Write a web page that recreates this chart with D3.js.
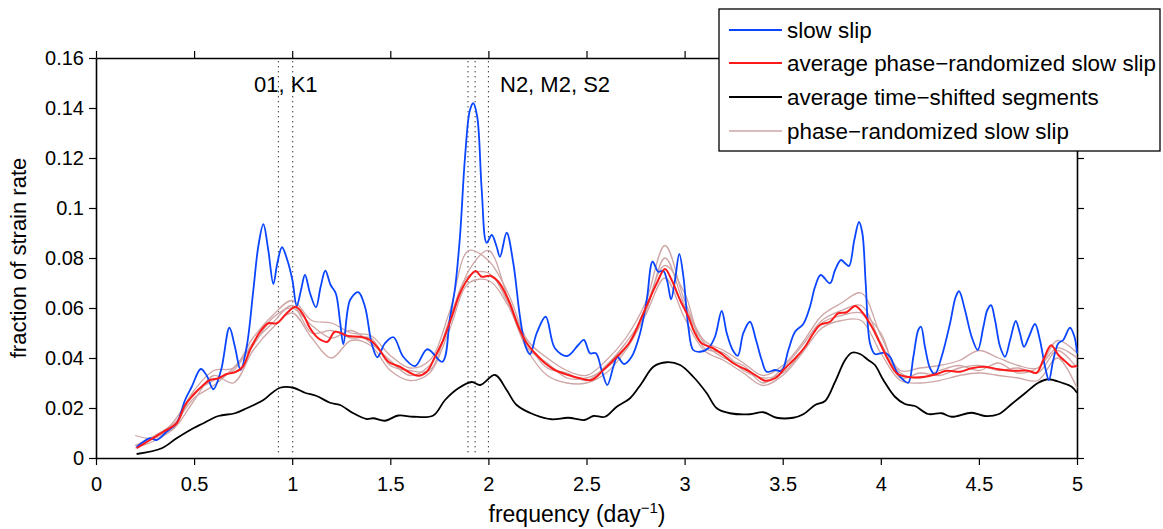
<!DOCTYPE html>
<html>
<head>
<meta charset="utf-8">
<script src="https://cdn.jsdelivr.net/npm/d3@7"></script>
<style>
  body { margin: 0; background: #fff; }
  text { font-family: "Liberation Sans", Arial, Helvetica, sans-serif; fill: #000; }
</style>
</head>
<body>
<div id="chart"></div>
<script>
// ---- data ----
const xTicks = [0, 0.5, 1, 1.5, 2, 2.5, 3, 3.5, 4, 4.5, 5];
const xTickLabels = ["0", "0.5", "1", "1.5", "2", "2.5", "3", "3.5", "4", "4.5", "5"];
const yTicks = [0, 0.02, 0.04, 0.06, 0.08, 0.1, 0.12, 0.14, 0.16];
const yTickLabels = ["0", "0.02", "0.04", "0.06", "0.08", "0.1", "0.12", "0.14", "0.16"];

// tidal constituent frequencies (dotted lines)
const diurnal = [0.9295, 1.0027];          // O1, K1
const semidiurnal = [1.8960, 1.9323, 2.0]; // N2, M2, S2

const slowSlipFreq = [0.207, 0.275, 0.309, 0.36, 0.411, 0.454, 0.488, 0.534, 0.564, 0.598, 0.637, 0.68, 0.708, 0.737, 0.768, 0.802, 0.827, 0.853, 0.878, 0.904, 0.924, 0.948, 0.975, 1.001, 1.023, 1.045, 1.065, 1.091, 1.121, 1.145, 1.169, 1.196, 1.222, 1.244, 1.261, 1.295, 1.337, 1.371, 1.405, 1.434, 1.473, 1.516, 1.566, 1.626, 1.689, 1.765, 1.804, 1.83, 1.855, 1.881, 1.906, 1.923, 1.943, 1.966, 1.991, 2.017, 2.042, 2.059, 2.093, 2.127, 2.161, 2.19, 2.212, 2.246, 2.292, 2.339, 2.402, 2.458, 2.487, 2.518, 2.548, 2.577, 2.606, 2.637, 2.657, 2.691, 2.73, 2.773, 2.807, 2.837, 2.866, 2.891, 2.912, 2.931, 2.951, 2.973, 2.994, 3.019, 3.044, 3.078, 3.121, 3.155, 3.189, 3.215, 3.245, 3.271, 3.299, 3.333, 3.364, 3.393, 3.418, 3.461, 3.495, 3.529, 3.563, 3.605, 3.639, 3.665, 3.694, 3.741, 3.767, 3.797, 3.818, 3.838, 3.865, 3.889, 3.906, 3.923, 3.945, 3.97, 4.021, 4.047, 4.081, 4.115, 4.14, 4.166, 4.191, 4.205, 4.225, 4.251, 4.276, 4.31, 4.353, 4.382, 4.399, 4.429, 4.463, 4.494, 4.523, 4.543, 4.562, 4.582, 4.608, 4.633, 4.659, 4.688, 4.709, 4.73, 4.755, 4.786, 4.811, 4.837, 4.857, 4.879, 4.905, 4.93, 4.964, 4.987, 5.0];
const slowSlip = [0.0043, 0.0079, 0.0072, 0.0105, 0.0139, 0.0232, 0.0285, 0.0356, 0.033, 0.0275, 0.035, 0.0521, 0.0445, 0.0352, 0.0445, 0.0672, 0.0845, 0.0935, 0.0832, 0.0696, 0.0779, 0.0843, 0.0792, 0.0712, 0.0608, 0.0672, 0.0732, 0.0659, 0.0603, 0.0685, 0.0749, 0.0692, 0.0659, 0.0545, 0.0455, 0.0632, 0.0663, 0.0605, 0.0459, 0.0403, 0.0459, 0.0483, 0.0405, 0.0368, 0.0435, 0.0385, 0.056, 0.068, 0.0885, 0.1205, 0.1392, 0.1419, 0.1365, 0.1072, 0.0861, 0.0892, 0.0845, 0.0805, 0.0901, 0.0779, 0.0565, 0.0445, 0.0415, 0.0499, 0.0565, 0.0439, 0.0408, 0.0452, 0.0472, 0.0419, 0.0419, 0.0352, 0.0292, 0.0365, 0.0405, 0.0376, 0.0405, 0.0499, 0.0632, 0.0785, 0.0745, 0.0749, 0.0705, 0.0635, 0.0712, 0.0816, 0.0725, 0.0525, 0.0432, 0.0425, 0.0439, 0.0485, 0.0588, 0.0499, 0.0432, 0.0409, 0.0499, 0.0545, 0.0472, 0.0392, 0.0345, 0.0352, 0.0349, 0.0432, 0.0505, 0.0536, 0.0605, 0.0685, 0.0732, 0.0699, 0.0752, 0.0792, 0.0779, 0.0768, 0.0872, 0.0944, 0.0899, 0.0699, 0.0459, 0.0416, 0.0421, 0.0405, 0.0345, 0.0312, 0.0301, 0.0405, 0.0512, 0.0525, 0.0445, 0.0359, 0.0336, 0.0405, 0.0539, 0.0645, 0.0667, 0.0592, 0.0485, 0.0432, 0.0525, 0.0592, 0.0611, 0.0552, 0.0445, 0.0405, 0.0472, 0.0548, 0.0499, 0.0445, 0.0485, 0.0536, 0.0472, 0.0365, 0.0312, 0.0392, 0.0459, 0.0472, 0.0521, 0.0485, 0.0419];

const avgRandFreq = [0.207, 0.275, 0.343, 0.411, 0.454, 0.496, 0.547, 0.581, 0.624, 0.666, 0.708, 0.748, 0.785, 0.836, 0.878, 0.921, 0.972, 1.018, 1.057, 1.091, 1.133, 1.179, 1.218, 1.286, 1.346, 1.397, 1.439, 1.49, 1.549, 1.6, 1.643, 1.686, 1.728, 1.77, 1.813, 1.855, 1.898, 1.935, 1.966, 2.008, 2.051, 2.102, 2.153, 2.195, 2.238, 2.289, 2.339, 2.407, 2.467, 2.526, 2.586, 2.654, 2.722, 2.79, 2.858, 2.9, 2.934, 2.977, 3.019, 3.053, 3.087, 3.146, 3.197, 3.248, 3.317, 3.368, 3.41, 3.461, 3.512, 3.571, 3.614, 3.656, 3.69, 3.741, 3.783, 3.826, 3.869, 3.903, 3.954, 3.996, 4.038, 4.081, 4.132, 4.225, 4.285, 4.336, 4.404, 4.463, 4.531, 4.599, 4.667, 4.752, 4.794, 4.828, 4.868, 4.905, 4.948, 4.973, 5.0];
const avgRand = [0.0039, 0.0072, 0.0105, 0.0139, 0.0212, 0.0252, 0.0292, 0.0312, 0.0319, 0.0336, 0.0343, 0.0365, 0.0432, 0.0505, 0.0539, 0.0539, 0.0579, 0.0605, 0.0572, 0.0519, 0.0479, 0.0465, 0.0505, 0.0488, 0.0485, 0.0472, 0.0439, 0.0385, 0.0365, 0.0341, 0.0329, 0.0345, 0.0405, 0.0472, 0.0565, 0.0659, 0.0719, 0.0748, 0.0725, 0.0729, 0.0705, 0.0632, 0.0525, 0.0459, 0.0419, 0.0379, 0.0352, 0.0332, 0.0319, 0.0312, 0.0352, 0.0405, 0.0465, 0.0579, 0.0699, 0.0756, 0.0712, 0.0632, 0.0565, 0.0499, 0.0459, 0.0439, 0.0412, 0.0379, 0.0352, 0.0328, 0.0309, 0.0319, 0.0359, 0.0405, 0.0445, 0.0499, 0.0532, 0.0545, 0.0579, 0.0583, 0.0608, 0.0585, 0.0525, 0.0459, 0.0392, 0.0339, 0.0325, 0.0325, 0.0336, 0.0349, 0.0345, 0.0359, 0.0365, 0.0355, 0.0349, 0.0349, 0.0341, 0.0392, 0.0451, 0.0412, 0.0381, 0.0365, 0.0369];

const shiftedFreq = [0.207, 0.335, 0.411, 0.496, 0.539, 0.624, 0.708, 0.768, 0.853, 0.895, 0.938, 1.006, 1.065, 1.125, 1.193, 1.244, 1.312, 1.38, 1.413, 1.473, 1.541, 1.617, 1.719, 1.779, 1.847, 1.915, 1.958, 2.034, 2.093, 2.144, 2.238, 2.322, 2.407, 2.489, 2.535, 2.594, 2.654, 2.722, 2.781, 2.841, 2.909, 2.977, 3.044, 3.113, 3.164, 3.231, 3.333, 3.401, 3.469, 3.554, 3.605, 3.665, 3.716, 3.767, 3.818, 3.852, 3.894, 3.936, 3.97, 4.013, 4.072, 4.123, 4.174, 4.242, 4.31, 4.361, 4.463, 4.531, 4.599, 4.667, 4.735, 4.803, 4.854, 4.922, 4.973, 5.0];
const shifted = [0.0016, 0.0039, 0.0079, 0.0119, 0.0136, 0.0168, 0.0179, 0.0199, 0.0232, 0.0259, 0.0281, 0.0281, 0.0261, 0.0248, 0.0221, 0.0212, 0.0179, 0.0156, 0.0159, 0.0149, 0.017, 0.0165, 0.017, 0.0232, 0.0279, 0.0304, 0.0292, 0.0332, 0.0272, 0.0212, 0.0172, 0.0155, 0.0161, 0.0152, 0.0168, 0.0165, 0.0205, 0.0239, 0.0299, 0.0365, 0.0383, 0.0372, 0.0325, 0.0259, 0.0199, 0.0179, 0.0175, 0.0183, 0.0161, 0.0161, 0.0175, 0.0212, 0.0228, 0.0305, 0.0392, 0.0421, 0.0416, 0.0392, 0.0372, 0.0312, 0.0245, 0.0216, 0.0208, 0.0176, 0.0179, 0.0165, 0.0181, 0.0168, 0.0175, 0.0216, 0.0259, 0.0301, 0.0315, 0.0301, 0.0285, 0.0261];

// individual phase-randomized realisations (light traces)
const randFreq = [0.2, 0.3, 0.4, 0.5, 0.6, 0.7, 0.8, 0.9, 1.0, 1.1, 1.2, 1.3, 1.4, 1.5, 1.6, 1.7, 1.8, 1.9, 2.0, 2.1, 2.2, 2.3, 2.4, 2.5, 2.6, 2.7, 2.8, 2.9, 3.0, 3.1, 3.2, 3.3, 3.4, 3.5, 3.6, 3.7, 3.8, 3.9, 4.0, 4.1, 4.2, 4.3, 4.4, 4.5, 4.6, 4.7, 4.8, 4.9, 5.0];
const randA = [0.009, 0.008, 0.015, 0.027, 0.035, 0.036, 0.048, 0.057, 0.063, 0.055, 0.054, 0.050, 0.049, 0.041, 0.036, 0.039, 0.058, 0.083, 0.079, 0.066, 0.047, 0.040, 0.035, 0.033, 0.039, 0.048, 0.062, 0.085, 0.063, 0.047, 0.043, 0.038, 0.033, 0.037, 0.046, 0.057, 0.062, 0.066, 0.049, 0.035, 0.036, 0.037, 0.039, 0.043, 0.040, 0.037, 0.036, 0.047, 0.042];
const randB = [0.004, 0.007, 0.012, 0.023, 0.033, 0.030, 0.043, 0.052, 0.058, 0.048, 0.040, 0.047, 0.045, 0.035, 0.031, 0.034, 0.051, 0.070, 0.071, 0.061, 0.043, 0.033, 0.030, 0.030, 0.034, 0.043, 0.057, 0.072, 0.056, 0.043, 0.039, 0.034, 0.029, 0.033, 0.042, 0.052, 0.055, 0.055, 0.042, 0.031, 0.030, 0.031, 0.033, 0.034, 0.033, 0.032, 0.031, 0.040, 0.028];
const randC = [0.005, 0.009, 0.014, 0.024, 0.029, 0.036, 0.045, 0.056, 0.060, 0.053, 0.048, 0.051, 0.046, 0.039, 0.033, 0.037, 0.053, 0.075, 0.083, 0.064, 0.046, 0.036, 0.034, 0.031, 0.037, 0.046, 0.058, 0.080, 0.061, 0.046, 0.040, 0.037, 0.030, 0.036, 0.045, 0.055, 0.059, 0.061, 0.046, 0.034, 0.032, 0.035, 0.037, 0.035, 0.038, 0.034, 0.036, 0.044, 0.040];
const randD = [0.005, 0.008, 0.013, 0.026, 0.031, 0.035, 0.046, 0.054, 0.061, 0.050, 0.051, 0.048, 0.048, 0.037, 0.035, 0.035, 0.055, 0.073, 0.074, 0.062, 0.044, 0.038, 0.032, 0.032, 0.036, 0.044, 0.060, 0.077, 0.066, 0.044, 0.042, 0.035, 0.032, 0.034, 0.043, 0.054, 0.057, 0.058, 0.050, 0.032, 0.034, 0.033, 0.036, 0.037, 0.035, 0.036, 0.034, 0.043, 0.036];

const legendLabels = ["slow slip", "average phase\u2212randomized slow slip", "average time\u2212shifted segments", "phase\u2212randomized slow slip"];
const legendColors = ["#0a46ff", "#ff1a1a", "#000000", "#cfa6a6"];

// ---- layout ----
const width = 1163;
const height = 529;
const margin = { top: 58, right: 86, bottom: 71, left: 96 };

const svg = d3.select("#chart")
    .append("svg")
    .attr("width", width)
    .attr("height", height);

const xScale = d3.scaleLinear()
    .domain([0, 5])
    .range([margin.left, width - margin.right]);

const yScale = d3.scaleLinear()
    .domain([0, 0.16])
    .range([height - margin.bottom, margin.top]);

// axes (box with outward ticks)
const xAxis = d3.axisBottom(xScale).tickValues(xTicks)
    .tickFormat((d, i) => xTickLabels[i]).tickSize(7).tickSizeOuter(0).tickPadding(12);
const yAxis = d3.axisLeft(yScale).tickValues(yTicks)
    .tickFormat((d, i) => yTickLabels[i]).tickSize(7).tickSizeOuter(0).tickPadding(5);

function styleAxis(g) {
    g.select(".domain").attr("stroke", "#000").attr("stroke-width", 1.6);
    g.selectAll(".tick line").attr("stroke", "#000").attr("stroke-width", 1.2);
    g.selectAll(".tick text").style("font-size", "20px").attr("fill", "#000");
}

svg.append("g")
    .attr("transform", `translate(0, ${height - margin.bottom})`)
    .call(xAxis).call(styleAxis);

svg.append("g")
    .attr("transform", `translate(${margin.left}, 0)`)
    .call(yAxis).call(styleAxis);

svg.append("g")
    .attr("transform", `translate(0, ${margin.top})`)
    .call(d3.axisTop(xScale).tickValues(xTicks).tickFormat("").tickSize(7).tickSizeOuter(0))
    .call(styleAxis);

svg.append("g")
    .attr("transform", `translate(${width - margin.right}, 0)`)
    .call(d3.axisRight(yScale).tickValues(yTicks).tickFormat("").tickSize(7).tickSizeOuter(0))
    .call(styleAxis);

// dotted tidal lines
svg.append("g")
    .selectAll("line")
    .data(diurnal.concat(semidiurnal))
    .enter()
    .append("line")
    .attr("x1", d => xScale(d))
    .attr("x2", d => xScale(d))
    .attr("y1", margin.top + 3)
    .attr("y2", height - margin.bottom - 4)
    .attr("stroke", "#333")
    .attr("stroke-width", 1)
    .attr("stroke-dasharray", "1.4,3.6");

// lines
const line = d3.line()
    .curve(d3.curveCatmullRom.alpha(0.5))
    .x(d => xScale(d[0]))
    .y(d => yScale(d[1]));

function drawSeries(freq, vals, color, w) {
    svg.append("path")
        .datum(freq.map((f, i) => [f, vals[i]]))
        .attr("d", line)
        .attr("fill", "none")
        .attr("stroke", color)
        .attr("stroke-width", w)
        .attr("stroke-linejoin", "round");
}

[randA, randB, randC, randD].forEach(r => drawSeries(randFreq, r, legendColors[3], 1.3));
drawSeries(shiftedFreq, shifted, legendColors[2], 1.8);
drawSeries(slowSlipFreq, slowSlip, legendColors[0], 1.8);
drawSeries(avgRandFreq, avgRand, legendColors[1], 2);

// tidal labels
svg.append("text")
    .attr("x", 254).attr("y", 92)
    .style("font-size", "22px")
    .text("01, K1");

svg.append("text")
    .attr("x", 500).attr("y", 92)
    .style("font-size", "22px")
    .text("N2, M2, S2");

// axis labels
const xl = svg.append("text")
    .attr("x", 577).attr("y", 522)
    .attr("text-anchor", "middle")
    .style("font-size", "23px");
xl.append("tspan").text("frequency (day");
xl.append("tspan").attr("dy", -9).style("font-size", "15px").text("\u22121");
xl.append("tspan").attr("dy", 9).text(")");

svg.append("text")
    .attr("text-anchor", "middle")
    .attr("transform", `translate(26, ${(margin.top + height - margin.bottom) / 2}) rotate(-90)`)
    .style("font-size", "22px")
    .text("fraction of strain rate");

// legend
const legend = svg.append("g");
legend.append("rect")
    .attr("x", 719).attr("y", 9)
    .attr("width", 441).attr("height", 142)
    .attr("fill", "#fff")
    .attr("stroke", "#000")
    .attr("stroke-width", 1.3);

const rowY = [30, 63, 97, 131];
legendLabels.forEach((lab, i) => {
    legend.append("line")
        .attr("x1", 729).attr("x2", 782)
        .attr("y1", rowY[i]).attr("y2", rowY[i])
        .attr("stroke", legendColors[i])
        .attr("stroke-width", i === 3 ? 1.5 : 1.8);
    legend.append("text")
        .attr("x", 787).attr("y", rowY[i])
        .attr("dy", "0.36em")
        .style("font-size", "22.4px")
        .text(lab);
});
</script>
</body>
</html>
